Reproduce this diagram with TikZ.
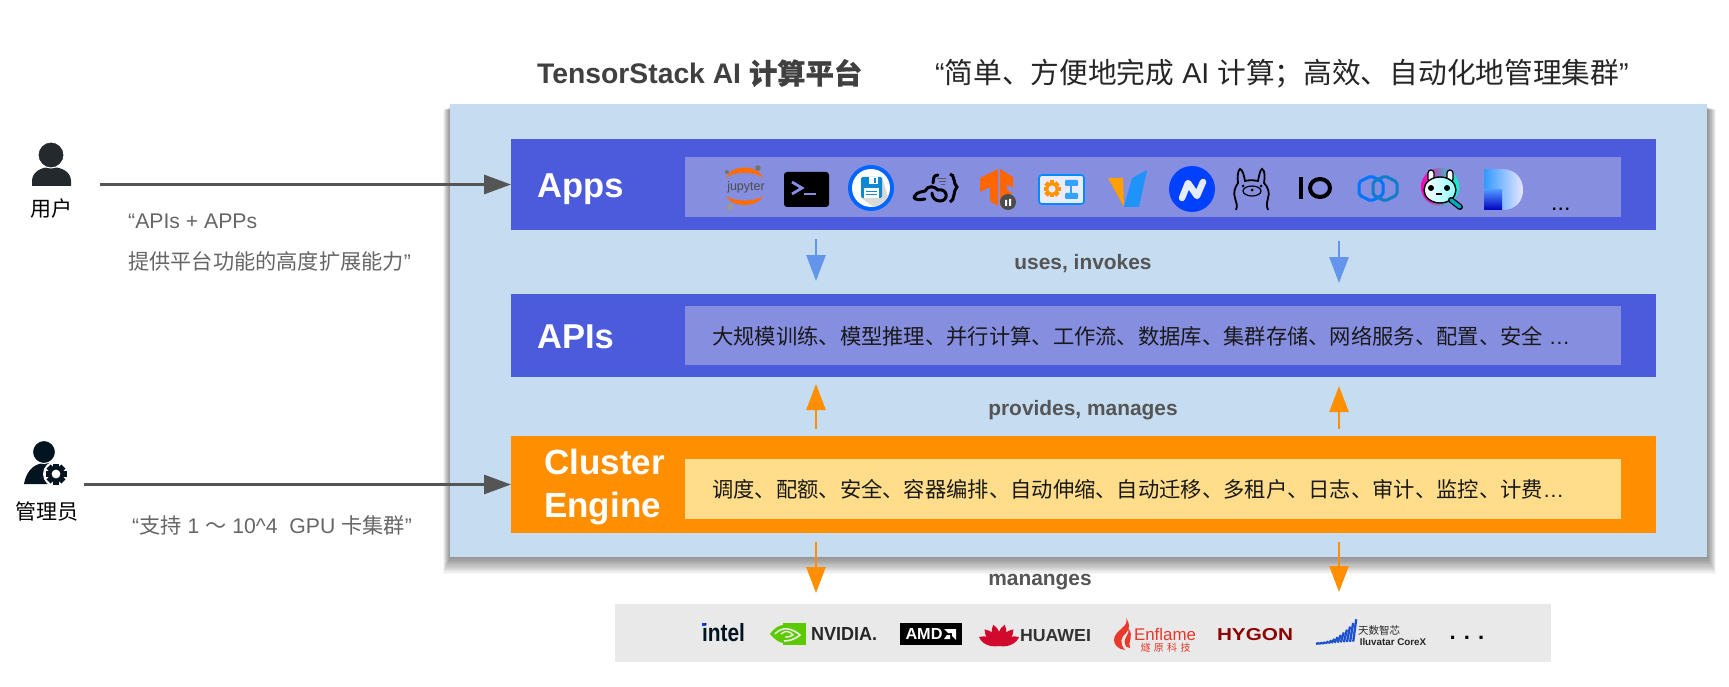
\documentclass[tikz,border=0pt]{standalone}
\usepackage{fontspec}
\setmainfont{Liberation Sans}
\newfontfamily\cjk{Noto Sans CJK SC}
\newfontfamily\cjkfat[FakeBold=0.5]{Noto Sans CJK SC}
\usetikzlibrary{arrows.meta}
\newcommand\fsz[1]{\fontsize{#1}{#1}\selectfont}
\newcommand\zh[1]{{\cjk #1}}
\newcommand\gearicon[4]{
\begin{scope}[shift={(#1)},scale=#2]
\foreach \a in {0,45,90,135} \fill[#3,rotate=\a] (-.28,-1) rectangle (.28,1);
\fill[#3] (0,0) circle (.78);
\fill[#4] (0,0) circle (.42);
\end{scope}
}
\definecolor{panelblue}{HTML}{C6DCF1}
\definecolor{barblue}{HTML}{4B5BDC}
\definecolor{innerblue}{HTML}{868EE0}
\definecolor{barorange}{HTML}{FF8F00}
\definecolor{innerorange}{HTML}{FFDD8A}
\definecolor{arrowblue}{HTML}{6495ED}
\definecolor{darkgrey}{HTML}{555555}
\definecolor{logogrey}{HTML}{E9E9E9}
\definecolor{usercol}{HTML}{24292D}
\definecolor{admincol}{HTML}{02141F}
\definecolor{enred}{HTML}{E8392A}
\definecolor{hwred}{HTML}{CF0A2C}
\definecolor{ilublue}{HTML}{1A50D0}
\tikzset{
  txt/.style={inner sep=0pt,anchor=base west},
  midtxt/.style={inner sep=0pt,anchor=base},
  bartxt/.style={txt,text=white,font=\bfseries\fsz{34.5}},
  steptxt/.style={midtxt,text=darkgrey,font=\bfseries\fsz{20.9}},
  saytxt/.style={txt,text=darkgrey!90,font=\fsz{21.2}},
  itemtxt/.style={txt,text=black!90,font=\fsz{21.3}},
  who/.style={midtxt,text=black,font=\cjk\fsz{21}},
  bar/.style={inner sep=0pt,outer sep=0pt,anchor=north west},
  darkarrow/.style={draw=darkgrey,line width=3pt,-{Triangle[length=27pt,width=19pt]}},
  bluearrow/.style={draw=arrowblue,line width=2.6pt,-{Triangle[length=26pt,width=19pt,fill=arrowblue]}},
  orangearrow/.style={draw=barorange,line width=2.6pt,-{Triangle[length=26pt,width=19pt,fill=barorange]}}
}
\begin{document}
\begin{tikzpicture}[x=1pt,y=-1pt]
\useasboundingbox (0,0) rectangle (1729,687);
\fill[white] (0,0) rectangle (1729,687);
% shadow and panel
\foreach \r in {1,...,14}
  \fill[black,opacity=.035] (450-\r*.5,107+\r*.2) rectangle (1707+\r*.65,557+\r*1.2);
\node [bar, fill=panelblue, minimum width=1257pt, minimum height=453pt] (panel) at (450,104) {};
% layers
\node [bar, fill=barblue, minimum width=1145pt, minimum height=91pt] (appsbar) at (511,139) {};
\node [bar, fill=innerblue, minimum width=936pt, minimum height=60pt] (appsinner) at (685,157) {};
\node [bar, fill=barblue, minimum width=1145pt, minimum height=83pt] (apisbar) at (511,294) {};
\node [bar, fill=innerblue, minimum width=936pt, minimum height=59pt] (apisinner) at (685,306) {};
\node [bar, fill=barorange, minimum width=1145pt, minimum height=97pt] (clusterbar) at (511,436) {};
\node [bar, fill=innerorange, minimum width=936pt, minimum height=60pt] (clusterinner) at (685,459) {};
\node [bar, fill=logogrey, minimum width=936pt, minimum height=58pt] (vendors) at (615,604) {};
% titles
\node [txt, text=black!75, font=\bfseries\fsz{28.3}] (title) at (537,84) {TensorStack AI {\cjkfat 计算平台}};
\node [txt, text=black!85, font=\fsz{28.7}] (motto) at (935,84) {“\zh{简单、方便地完成} AI \zh{计算；高效、自动化地管理集群}”};
\node [bartxt] (appstxt) at (537,197) {Apps};
\node [bartxt] (apistxt) at (537,348) {APIs};
\node [bartxt, font=\bfseries\fontsize{35}{43}\selectfont, anchor=west, align=left] (clustertxt) at (544,487) {Cluster\\Engine};
\node [itemtxt] (apisitems) at (712,344) {\zh{大规模训练、模型推理、并行计算、工作流、数据库、集群存储、网络服务、配置、安全} …};
\node [itemtxt] (clusteritems) at (712,497) {\zh{调度、配额、安全、容器编排、自动伸缩、自动迁移、多租户、日志、审计、监控、计费}…};
\node [txt, text=black, font=\fsz{23}] (appsdots) at (1551,211) {...};
\node [steptxt] (uses) at (1083,269) {uses, invokes};
\node [steptxt] (provides) at (1083,415) {provides, manages};
\node [steptxt] (mananges) at (1040,585) {mananges};
% left side
\node [who] (usertxt) at (51,217) {用户};
\node [who] (admintxt) at (47,519) {管理员};
\node [saytxt] (say1) at (128,229) {“APIs + APPs};
\node [saytxt] (say2) at (128,269) {\zh{提供平台功能的高度扩展能力}”};
\node [saytxt] (say3) at (132,533) {“\zh{支持} 1 \zh{～} 10\textasciicircum 4~ GPU \zh{卡集群}”};
\fill[usercol] (32,186) -- (32,181) .. controls (32,172) and (41,167) .. (51,167) .. controls (62,167) and (71,172) .. (71,181) -- (71,186) -- cycle;
\fill[usercol, draw=white, line width=1pt] (51,155) circle (13);
\fill[admincol] (24,484) .. controls (26,473) and (32,464) .. (44,463) -- (50,463) -- (50,484) -- cycle;
\fill[admincol, draw=white, line width=1pt] (44,452) circle (11.5);
\fill[white] (56,474) circle (13);
\gearicon{56,474}{10.5}{admincol}{white}
% arrows
\coordinate (userout) at (99.5,184.5);
\coordinate (adminout) at (84,484.5);
\draw[darkarrow] (userout) -- (appsbar.west);
\draw[darkarrow] (adminout) -- (clusterbar.west);
\coordinate (b1s) at (816,239); \coordinate (b1e) at (816,281);
\coordinate (b2s) at (1339,241); \coordinate (b2e) at (1339,283);
\draw[bluearrow] (b1s) -- (b1e);
\draw[bluearrow] (b2s) -- (b2e);
\coordinate (o1s) at (816,429); \coordinate (o1e) at (816,384);
\coordinate (o2s) at (1339,429); \coordinate (o2e) at (1339,386);
\draw[orangearrow] (o1s) -- (o1e);
\draw[orangearrow] (o2s) -- (o2e);
\coordinate (o3s) at (816,542); \coordinate (o3e) at (816,593);
\coordinate (o4s) at (1339,542); \coordinate (o4e) at (1339,592);
\draw[orangearrow] (o3s) -- (o3e);
\draw[orangearrow] (o4s) -- (o4e);
% jupyter
\fill[orange!85!red] (726,178) .. controls (731,164) and (758,164) .. (763,178) .. controls (755,171) and (734,171) .. (726,178);
\fill[orange!85!red] (726,196) .. controls (731,208) and (758,208) .. (763,196) .. controls (755,202) and (734,202) .. (726,196);
\node [midtxt, text=black!70, font=\fsz{12.5}] (jupytertxt) at (746,191) {jupyter};
\fill[black!55] (758,168) circle (2.8);
\fill[black!55] (727,172) circle (2);
\fill[black!40] (730,207) circle (3.4);
% terminal
\fill[black, rounded corners=3pt] (784,172) rectangle (829,207);
\draw[innerblue, line width=2.8pt] (792,182) -- (802,188) -- (792,194);
\draw[innerblue, line width=2pt] (804,194) -- (816,194);
% floppy
\fill[blue!60!cyan] (871,188) circle (23);
\fill[white] (871,188) circle (19);
\fill[black!15] (882,177) -- (888,197) .. controls (885,201) and (880,205) .. (874,207) -- (861,198) -- cycle;
\fill[cyan!70!blue, rounded corners=1.5pt] (861,177) rectangle (882,198);
\fill[white] (869,177) rectangle (878,184);
\fill[cyan!70!blue] (874,178) rectangle (876,183);
\fill[white] (864,188) rectangle (879,198);
\draw[cyan!70!blue, line width=.8pt] (866,191) -- (877,191) (866,194) -- (877,194);
% cloud code
\draw[black, line width=3pt, line cap=round] (914,197) .. controls (917,191) and (923,192) .. (925,191) .. controls (928,185) and (934,186) .. (938,190) .. controls (948,188) and (949,201) .. (940,201) .. controls (934,201) and (932,196) .. (932,193);
\draw[black, line width=3pt, line cap=round] (938,175) .. controls (932,175) and (934,181) .. (933,183) (914,197) .. controls (914,200) and (920,200) .. (925,199);
\draw[black, line width=3pt] (950,174) .. controls (955,174) and (953,184) .. (957,187) .. controls (953,190) and (955,201) .. (950,202);
\draw[black!65, line width=1pt] (937,179) -- (946,179) (939,182) -- (946,182) (941,185) -- (945,185);
% tensorflow
\fill[orange!80!red] (980,178) -- (998,169) -- (998,206) -- (990,201) -- (990,187) -- (980,192) -- cycle;
\fill[orange!80!red] (1000,169) -- (1013,177) -- (1013,188) -- (1007,184) -- (1007,190) -- (1012,193) -- (1007,198) -- (1007,203) -- (1000,206) -- cycle;
\fill[black!70] (1008,202) circle (8);
\fill[white] (1005,200) rectangle (1007,206) (1009,199) rectangle (1011,206);
% flow tool
\draw[blue!45!cyan, fill=blue!8, line width=1.6pt, rounded corners=3pt] (1039,175) rectangle (1084,204);
\gearicon{1052,189}{8.5}{orange!85!yellow}{blue!8}
\fill[blue!45!cyan!80, rounded corners=1pt] (1065,180) rectangle (1078,186) (1065,193) rectangle (1078,199);
\draw[blue!45!cyan!80, line width=1.2pt] (1071,186) -- (1071,193);
% v logo
\fill[orange!75!yellow] (1108,178) -- (1123,178) -- (1124,207) -- cycle;
\fill[arrowblue!50!blue!60!cyan] (1147,170) -- (1132,178) -- (1124,207) -- (1139,207) -- cycle;
% n logo
\fill[blue!75!cyan] (1192,189) circle (23);
\draw[white, opacity=.9, line width=6.5pt, line cap=round, line join=round] (1182,198) -- (1188,183) -- (1197,196) -- (1203,182);
% llama
\draw[black, line width=1.8pt, fill=innerblue] (1236,210) .. controls (1238,205) and (1236,203) .. (1235,198) .. controls (1233,193) and (1235,187) .. (1238,183) .. controls (1237,177) and (1238,170) .. (1240,169) .. controls (1243,170) and (1244,176) .. (1245,181) .. controls (1248,180) and (1254,180) .. (1258,181) .. controls (1259,176) and (1260,170) .. (1262,169) .. controls (1265,170) and (1265,177) .. (1264,183) .. controls (1268,187) and (1270,193) .. (1268,198) .. controls (1267,203) and (1266,205) .. (1268,210);
\draw[black, line width=1.2pt] (1252,191) ellipse (9 and 5);
\fill[black] (1252,190) circle (1.5) (1243,186) circle (1.5) (1261,186) circle (1.5);
% io
\fill[black] (1299,177) rectangle (1303,199);
\draw[black, line width=4pt] (1320,188) ellipse (10 and 9);
% hexagons
\draw[blue!55!cyan, line width=3pt, rounded corners=2pt] (1371,176) -- (1383,182) -- (1383,195) -- (1371,201) -- (1359,195) -- (1359,182) -- cycle;
\draw[cyan!60!blue, line width=3pt, rounded corners=2pt] (1385,176) -- (1397,182) -- (1397,195) -- (1385,201) -- (1373,195) -- (1373,182) -- cycle;
% rabbit
\shade[left color=magenta!70!red, right color=cyan!80!green] (1440,187) circle (19);
\draw[black, fill=white, line width=1.2pt, rounded corners=3pt] (1428,170) rectangle (1434,182);
\draw[black, fill=white, line width=1.2pt, rounded corners=3pt] (1447,170) rectangle (1453,182);
\shade[left color=white, right color=cyan!45] (1440,190) ellipse (16 and 13);
\draw[black, line width=1.4pt] (1440,190) ellipse (16 and 13);
\fill[black] (1431,188) circle (3) (1447,188) circle (3);
\draw[black, line width=1.2pt] (1436,194) -- (1442,194);
\draw[black, line width=6pt, line cap=round] (1451,200) -- (1460,207);
\draw[cyan!70!green, line width=3.5pt, line cap=round] (1451,200) -- (1460,207);
% d logo
\shade[left color=blue!50!cyan!80, right color=blue!10] (1484,169) -- (1502,169) .. controls (1516,169) and (1523,179) .. (1523,190) .. controls (1523,201) and (1516,210) .. (1502,210) -- (1484,210) -- cycle;
\shade[top color=blue!60!cyan!70, bottom color=blue!75!black] (1484,190) rectangle (1502,210);
% intel
\node [midtxt, text=admincol] (inteltxt) at (723.5,641) {\resizebox{43pt}{18pt}{\bfseries intel}};
\fill[blue!75!cyan] (702,623) rectangle (705,626);
% nvidia
\fill[green!50!olive!85!yellow] (783,623) rectangle (806,645);
\fill[green!50!olive!85!yellow] (770,634) .. controls (775,627) and (780,625) .. (784,625) -- (784,643) .. controls (780,643) and (775,640) .. (770,634);
\draw[logogrey, line width=1.6pt] (775,634) .. controls (782,626) and (792,628) .. (800,635) .. controls (794,640) and (788,641) .. (784,641);
\draw[logogrey, line width=1.4pt] (781,634) .. controls (785,630) and (790,631) .. (793,635) .. controls (790,637) and (788,637) .. (785,637);
\node [midtxt, text=black!85] (nvidiatxt) at (844,640) {\resizebox{66pt}{13pt}{\bfseries NVIDIA.}};
% amd
\fill[black] (900,623) rectangle (962,645);
\node [midtxt, text=white] (amdtxt) at (924,639) {\resizebox{37pt}{11pt}{\bfseries AMD}};
\fill[white] (944,629) -- (956,629) -- (956,640) -- (952,636) -- (952,633) -- (948,633) -- cycle;
\fill[white] (947,635) -- (950,635) -- (950,639) -- (944,639) -- cycle;
% huawei
\foreach \a in {-66,-41,-15,15,41,66}
  \fill[hwred, rotate around={\a:(999,646)}] (999,646) .. controls (993,637) and (995,628) .. (999,624) .. controls (1003,628) and (1005,637) .. (999,646);
\node [midtxt, text=black!80] (huaweitxt) at (1055.5,641) {\resizebox{71pt}{12pt}{\bfseries HUAWEI}};
% enflame
\fill[enred] (1126,618) .. controls (1130,627) and (1114,630) .. (1114,640) .. controls (1114,645) and (1118,649) .. (1125,650) .. controls (1119,643) and (1121,637) .. (1126,633) .. controls (1130,629) and (1130,623) .. (1126,618);
\fill[enred] (1128,628) .. controls (1131,634) and (1123,637) .. (1125,644) .. controls (1125,646) and (1127,648) .. (1130,648) .. controls (1127,642) and (1135,636) .. (1128,628);
\node [midtxt, text=enred] (enflametxt) at (1165,640) {\resizebox{62pt}{!}{Enflame}};
\node [midtxt, text=enred, font=\cjk\fsz{10}] (enflamezh) at (1165.5,651) {燧\,\,原\,\,科\,\,技};
% hygon
\node [midtxt, text=red!55!black] (hygontxt) at (1255,640) {\resizebox{76pt}{12pt}{\bfseries HYGON}};
% iluvatar
\foreach \i in {0,...,12}
  \draw[ilublue, line width=2.3pt] (1316+\i*3.1,644-\i*.2) -- (1319+\i*3.1,644-1-\i*\i*.165);
\node [midtxt, text=black!85, font=\cjk\fsz{10.5}] (iluzh) at (1379,634) {天数智芯};
\node [midtxt, text=black!85, font=\bfseries\fsz{9.8}] (iluen) at (1393,645) {Iluvatar CoreX};
\node [midtxt, text=black, font=\bfseries\fsz{22}] (vendordots) at (1467,639) {. . .};
\end{tikzpicture}
\end{document}
